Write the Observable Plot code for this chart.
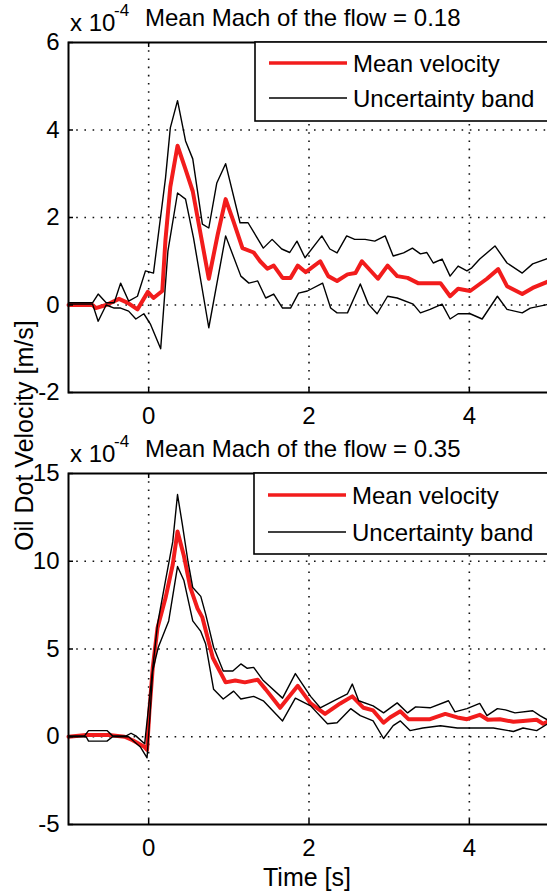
<!DOCTYPE html>
<html><head><meta charset="utf-8">
<script src="https://cdn.jsdelivr.net/npm/d3@7"></script>
<script src="https://cdn.jsdelivr.net/npm/@observablehq/plot@0.6"></script>
<style>
html,body{margin:0;padding:0;background:#fff;}
#chart{position:relative;width:547px;height:894px;overflow:hidden;background:#fff;}
#chart .slot{position:absolute;left:0;width:547px;}
#chart svg{display:block;}
#overlay{position:absolute;left:0;top:0;pointer-events:none;}
</style></head>
<body><div id="chart"></div>
<script>
// ---- Data (velocity in units of 1e-4 m/s) ----
const xTicks = [0, 2, 4];
const topYTicks = [-2, 0, 2, 4, 6];
const topYGrid = [0, 2, 4];
const botYTicks = [-5, 0, 5, 10, 15];
const botYGrid = [0, 5, 10];

const topTitle = "Mean Mach of the flow = 0.18";
const botTitle = "Mean Mach of the flow = 0.35";
const legendLabels = ["Mean velocity", "Uncertainty band"];

// Top panel (Mach 0.18)
const topTMean = [-1, -0.7, -0.66, -0.53, -0.37, -0.26, -0.14, -0.01, 0.06, 0.17, 0.21, 0.27, 0.36, 0.46, 0.55, 0.65, 0.75, 0.86, 0.96, 1.06, 1.17, 1.31, 1.39, 1.48, 1.56, 1.67, 1.77, 1.86, 1.96, 2.14, 2.24, 2.35, 2.48, 2.58, 2.66, 2.86, 2.98, 3.1, 3.23, 3.36, 3.64, 3.76, 3.86, 4.01, 4.22, 4.36, 4.47, 4.66, 4.79, 5.0];
const topMean  = [0, 0, -0.07, 0, 0.14, 0.05, -0.1, 0.3, 0.16, 0.32, 1.5, 2.7, 3.64, 3.1, 2.6, 1.6, 0.6, 1.6, 2.42, 1.9, 1.3, 1.2, 1.0, 0.83, 0.9, 0.62, 0.62, 0.9, 0.75, 1.0, 0.66, 0.55, 0.7, 0.73, 1.0, 0.6, 0.9, 0.66, 0.62, 0.5, 0.5, 0.2, 0.37, 0.32, 0.6, 0.82, 0.43, 0.25, 0.39, 0.55];

const topTUpper = [-1, -0.7, -0.63, -0.53, -0.43, -0.35, -0.25, -0.14, -0.04, 0.06, 0.21, 0.27, 0.36, 0.46, 0.55, 0.67, 0.75, 0.85, 0.96, 1.14, 1.24, 1.43, 1.54, 1.66, 1.76, 1.85, 1.95, 2.16, 2.26, 2.35, 2.47, 2.57, 2.7, 2.82, 2.95, 3.05, 3.18, 3.29, 3.39, 3.47, 3.55, 3.66, 3.76, 3.86, 3.97, 4.03, 4.13, 4.32, 4.47, 4.66, 4.79, 5.0];
const topUpper  = [0.05, 0.05, 0.25, 0.05, 0.05, 0.5, 0.09, 0.2, 0.78, 0.73, 2.9, 4.05, 4.67, 3.75, 3.34, 1.85, 1.76, 2.79, 3.23, 1.88, 1.88, 1.3, 1.5, 1.28, 1.2, 1.46, 1.08, 1.58, 1.28, 1.19, 1.58, 1.5, 1.5, 1.46, 1.58, 1.12, 1.19, 1.3, 1.17, 1.2, 0.96, 1.05, 0.66, 0.89, 0.78, 0.85, 1.05, 1.35, 0.96, 0.73, 0.94, 1.08];

const topTLower = [-1, -0.7, -0.63, -0.53, -0.43, -0.35, -0.25, -0.16, -0.06, 0.02, 0.15, 0.24, 0.36, 0.46, 0.56, 0.75, 0.96, 1.15, 1.25, 1.36, 1.46, 1.56, 1.67, 1.77, 1.87, 1.98, 2.17, 2.27, 2.35, 2.48, 2.64, 2.74, 2.85, 2.98, 3.1, 3.3, 3.39, 3.51, 3.66, 3.76, 3.86, 4.01, 4.16, 4.35, 4.47, 4.66, 4.76, 5.0];
const topLower  = [0.02, 0.02, -0.37, 0, -0.07, -0.07, -0.14, -0.32, -0.2, -0.43, -1.0, 1.23, 2.56, 2.42, 1.53, -0.52, 1.58, 0.66, 0.5, 0.55, 0.16, 0.25, -0.07, -0.07, 0.27, 0.32, 0.5, -0.07, -0.18, -0.18, 0.48, 0.02, -0.2, 0.2, 0.16, 0.02, -0.18, -0.1, 0.02, -0.32, -0.2, -0.2, -0.32, 0.2, -0.1, -0.18, -0.07, 0.02];

// Bottom panel (Mach 0.35)
const botTMean = [-1, -0.78, -0.5, -0.3, -0.2, -0.06, -0.02, 0.01, 0.05, 0.11, 0.21, 0.3, 0.36, 0.44, 0.52, 0.61, 0.67, 0.8, 0.96, 1.08, 1.2, 1.36, 1.46, 1.64, 1.86, 2.02, 2.2, 2.39, 2.54, 2.68, 2.8, 2.93, 3.01, 3.14, 3.24, 3.35, 3.51, 3.7, 3.85, 3.97, 4.13, 4.23, 4.38, 4.55, 4.67, 4.84, 4.92, 5.0];
const botMean  = [0, 0.1, 0.1, 0, -0.2, -0.55, -0.75, 1.5, 3.9, 6.2, 7.9, 9.8, 11.7, 10.3, 8.5, 7.3, 6.8, 4.5, 3.1, 3.2, 3.1, 3.25, 2.7, 1.65, 2.9, 1.9, 1.3, 1.9, 2.3, 1.65, 1.5, 0.8, 1.1, 1.45, 1.0, 1.0, 1.0, 1.3, 1.1, 1.0, 1.25, 0.97, 1.0, 0.85, 0.9, 0.97, 0.74, 0.9];

const botTUpper = [-1, -0.8, -0.75, -0.52, -0.45, -0.28, -0.22, -0.16, -0.05, 0.02, 0.11, 0.21, 0.3, 0.36, 0.42, 0.49, 0.55, 0.65, 0.71, 0.81, 0.93, 1.05, 1.15, 1.23, 1.31, 1.43, 1.67, 1.83, 2.02, 2.14, 2.35, 2.48, 2.54, 2.62, 2.8, 2.93, 3.1, 3.23, 3.33, 3.51, 3.74, 3.82, 3.97, 4.13, 4.22, 4.35, 4.45, 4.57, 4.79, 4.88, 5.0];
const botUpper  = [0.05, 0.05, 0.35, 0.35, 0.05, 0.05, 0.2, 0.05, -0.4, 2.6, 6.4, 8.9, 11.1, 13.8, 12.1, 10.0, 8.5, 8.0, 7.0, 5.1, 3.75, 3.75, 4.15, 3.9, 3.95, 3.2, 2.2, 3.6, 2.3, 1.65, 2.15, 2.45, 3.0, 2.05, 1.76, 1.36, 1.93, 1.36, 1.7, 1.65, 2.05, 1.42, 1.6, 1.9, 1.2, 1.6, 1.53, 1.36, 1.48, 1.2, 0.9];

const botTLower = [-1, -0.78, -0.75, -0.52, -0.45, -0.25, -0.1, -0.02, 0.02, 0.05, 0.12, 0.25, 0.36, 0.44, 0.55, 0.65, 0.71, 0.81, 0.93, 1.06, 1.15, 1.31, 1.43, 1.67, 1.83, 2.02, 2.23, 2.35, 2.52, 2.64, 2.8, 2.93, 3.05, 3.14, 3.26, 3.42, 3.64, 3.85, 4.1, 4.3, 4.55, 4.67, 4.84, 5.0];
const botLower  = [0, 0, -0.25, -0.25, 0, 0, -0.6, -1.2, 1.5, 3.75, 5.1, 6.6, 9.7, 8.9, 6.6, 6.0, 5.3, 2.7, 2.15, 2.6, 2.15, 2.3, 2.05, 0.9, 2.2, 1.76, 0.74, 0.8, 1.6, 1.2, 0.9, -0.1, 0.63, 0.9, 0.35, 0.5, 0.63, 0.5, 0.5, 0.5, 0.3, 0.5, 0.35, 0.8];

// ---- Layout ----
const FONT = "'Liberation Sans', Arial, Helvetica, sans-serif";
const W = 547, ML = 68, MR = -2;
const fmt = d => String(d);
const gridStyle = {stroke: "#111", strokeWidth: 1.6, strokeDasharray: "1.6,6.6"};

function panel(o) {
  const fw = W - ML - MR;
  const fh = o.height - o.mt - o.mb;
  return Plot.plot({
    width: W, height: o.height,
    marginLeft: ML, marginRight: MR, marginTop: o.mt, marginBottom: o.mb,
    style: {fontFamily: FONT, fontSize: "24px", color: "black", background: "white", overflow: "visible"},
    x: {domain: [-1, 5], ticks: xTicks, tickSize: 0, tickPadding: 14, tickFormat: fmt, label: null},
    y: {domain: o.yDomain, ticks: o.yTicks, tickSize: 0, tickPadding: 9, tickFormat: fmt, label: null},
    marks: [
      Plot.ruleX(xTicks, {x: d => d, ...gridStyle}),
      Plot.ruleY(o.yGrid, {y: d => d, ...gridStyle}),
      Plot.line(o.mean, {x: o.tMean, y: o.mean, stroke: "#f21c1c", strokeWidth: 4, strokeLinejoin: "round"}),
      Plot.line(o.upper, {x: o.tUpper, y: o.upper, stroke: "#000", strokeWidth: 1.4}),
      Plot.line(o.lower, {x: o.tLower, y: o.lower, stroke: "#000", strokeWidth: 1.4}),
      Plot.tickX(xTicks, {x: d => d, insetTop: fh - 5, stroke: "#000", strokeWidth: 1.5}),
      Plot.tickX(xTicks, {x: d => d, insetBottom: fh - 5, stroke: "#000", strokeWidth: 1.5}),
      Plot.tickY(o.yTicks, {y: d => d, insetRight: fw - 5, stroke: "#000", strokeWidth: 1.5}),
      Plot.frame({stroke: "#000", strokeWidth: 2})
    ]
  });
}

const chart = document.getElementById("chart");
function place(node, top) {
  const d = document.createElement("div");
  d.className = "slot";
  d.style.top = top + "px";
  d.appendChild(node);
  chart.appendChild(d);
}

place(panel({height: 430, mt: 42, mb: 38, yDomain: [-2, 6], yTicks: topYTicks, yGrid: topYGrid,
  tMean: topTMean, mean: topMean, tUpper: topTUpper, upper: topUpper, tLower: topTLower, lower: topLower}), 0);
place(panel({height: 464, mt: 43, mb: 70, yDomain: [-5, 15], yTicks: botYTicks, yGrid: botYGrid,
  tMean: botTMean, mean: botMean, tUpper: botTUpper, upper: botUpper, tLower: botTLower, lower: botLower}), 430);

// ---- Overlay: titles, legends, axis labels ----
const svg = d3.create("svg").attr("id", "overlay").attr("width", 547).attr("height", 894)
  .style("font-family", FONT).style("font-size", "24px");

function header(frameTop, title) {
  svg.append("text").attr("x", 70).attr("y", frameTop - 11).text("x 10");
  svg.append("text").attr("x", 114).attr("y", frameTop - 26).style("font-size", "17px").text("-4");
  svg.append("text").attr("x", 145).attr("y", frameTop - 16).text(title);
}
function legend(x0, y0, h, yRed, yBlack) {
  const g = svg.append("g");
  g.append("rect").attr("x", x0).attr("y", y0).attr("width", 320).attr("height", h)
    .attr("fill", "white").attr("stroke", "black").attr("stroke-width", 1.6);
  g.append("line").attr("x1", x0 + 14).attr("x2", x0 + 92).attr("y1", yRed).attr("y2", yRed)
    .attr("stroke", "#f21c1c").attr("stroke-width", 3.5);
  g.append("line").attr("x1", x0 + 14).attr("x2", x0 + 92).attr("y1", yBlack).attr("y2", yBlack)
    .attr("stroke", "#000").attr("stroke-width", 1.4);
  g.append("text").attr("x", x0 + 98).attr("y", yRed + 9).text(legendLabels[0]);
  g.append("text").attr("x", x0 + 98).attr("y", yBlack + 9).text(legendLabels[1]);
}

header(42, topTitle);
header(473, botTitle);
legend(255, 42, 79, 63, 98);
legend(254, 473, 81, 495, 532);

svg.append("text").attr("transform", "translate(33,551) rotate(-90)")
  .style("font-size", "25px").text("Oil Dot Velocity [m/s]");
svg.append("text").attr("x", 307).attr("y", 886).attr("text-anchor", "middle")
  .style("font-size", "25px").text("Time [s]");

chart.appendChild(svg.node());
</script>
</body></html>
